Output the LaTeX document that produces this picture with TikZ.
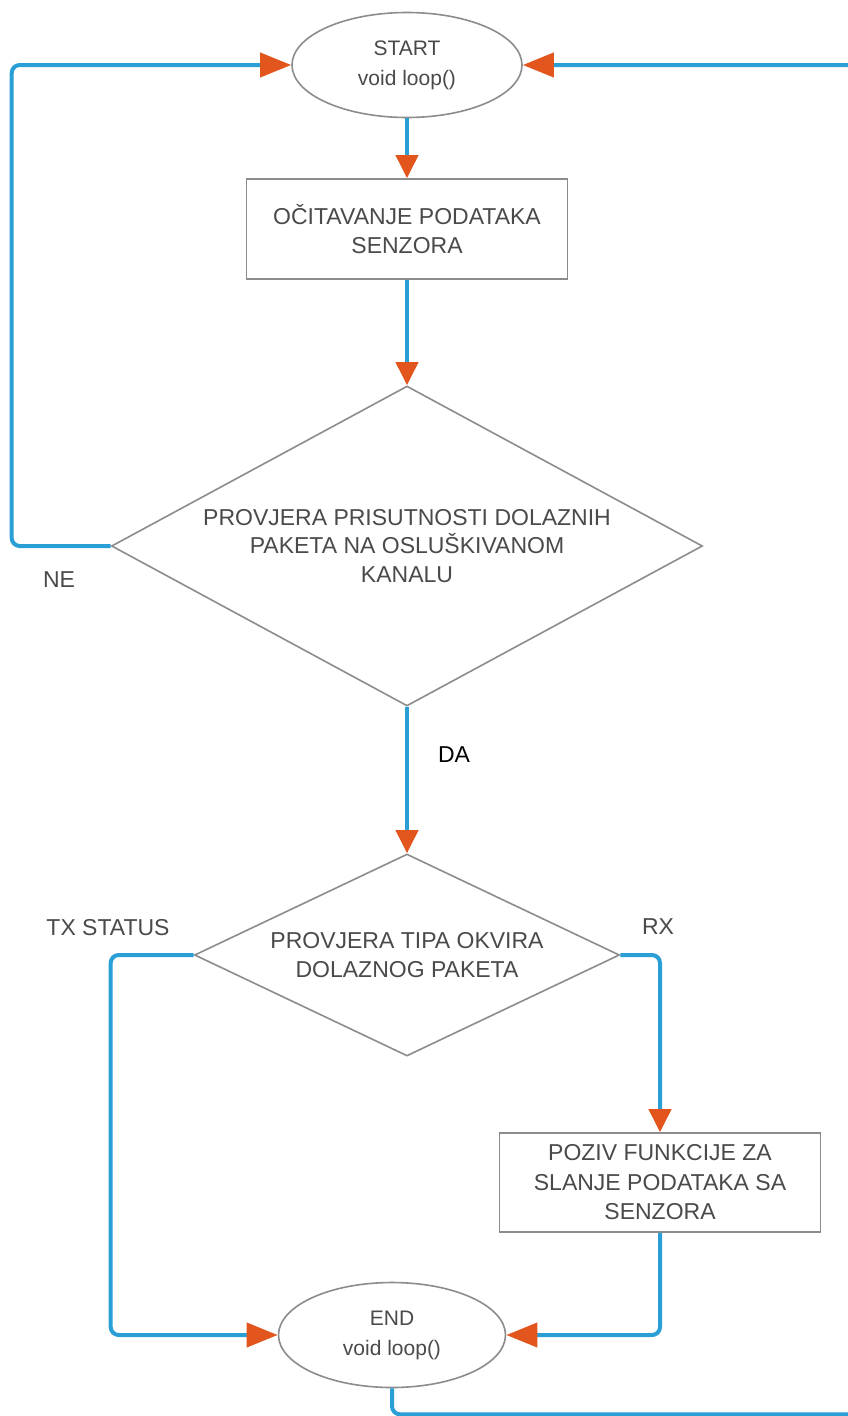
\documentclass[tikz,border=0pt]{standalone}
\usepackage{fontspec}
\setmainfont{Liberation Sans}
\usetikzlibrary{shapes.geometric,arrows.meta}
\definecolor{flowblue}{HTML}{2A9FD6}
\definecolor{floworange}{HTML}{E2561D}
\definecolor{bordergray}{HTML}{8C8C8C}
\definecolor{textgray}{HTML}{4A4A4A}
\begin{document}
\begin{tikzpicture}[x=1pt,y=-1pt,
 base/.style={draw=bordergray,line width=1.6pt,text=textgray,align=center,inner sep=0pt},
 terminal/.style={base,ellipse,minimum width=230pt,minimum height=105pt,font=\fontsize{21}{30}\selectfont},
 process/.style={base,rectangle,minimum width=321pt,minimum height=100pt,font=\fontsize{23}{29.5}\selectfont},
 decision/.style={base,diamond,font=\fontsize{23}{28.5}\selectfont},
 flow/.style={draw=flowblue,line width=4pt,rounded corners=8pt},
 hto/.style={flow,-{Triangle[length=31pt,width=24pt,color=floworange]}},
 vto/.style={flow,-{Triangle[length=23pt,width=22pt,color=floworange]}},
 lbl/.style={text=textgray,font=\fontsize{23}{28}\selectfont,inner sep=0pt}
]
\useasboundingbox[fill=white] (0,0) rectangle (847,1416);

\node[terminal] (start) at (407,65) {START\\void loop()};
\node[process] (read) at (407,229) {OČITAVANJE PODATAKA\\SENZORA};
\node[decision,minimum width=591pt,minimum height=320pt,aspect=1.85] (check) at (407,546) {PROVJERA PRISUTNOSTI DOLAZNIH\\PAKETA NA OSLUŠKIVANOM\\KANALU};
\node[decision,minimum width=425pt,minimum height=202pt,aspect=2.1] (type) at (407,955) {PROVJERA TIPA OKVIRA\\DOLAZNOG PAKETA};
\node[process,minimum width=321pt,minimum height=99pt] (send) at (660,1182.5) {POZIV FUNKCIJE ZA\\SLANJE PODATAKA SA\\SENZORA};
\node[terminal,minimum width=227pt] (end) at (392,1335) {END\\void loop()};

\node[lbl] (ne) at (59,580) {NE};
\node[lbl,text=black] (da) at (454,755) {DA};
\node[lbl] (tx) at (108,928) {TX STATUS};
\node[lbl] (rx) at (658,927) {RX};

\draw[vto] (start.south) -- (read.north);
\draw[vto] (read.south) -- (check.north);
\draw[vto] (check.south) -- (type.north);
\draw[hto] (check.west) -- ++(-99,0) |- (start.west);
\draw[hto] (type.west) -- ++(-83,0) |- (end.west);
\draw[vto] (type.east) -| (send.north);
\draw[hto] (send.south) |- (end.east);
\draw[hto] (end.south) -- ++(0,26) -- ++(508,0) |- (start.east);
\end{tikzpicture}
\end{document}
